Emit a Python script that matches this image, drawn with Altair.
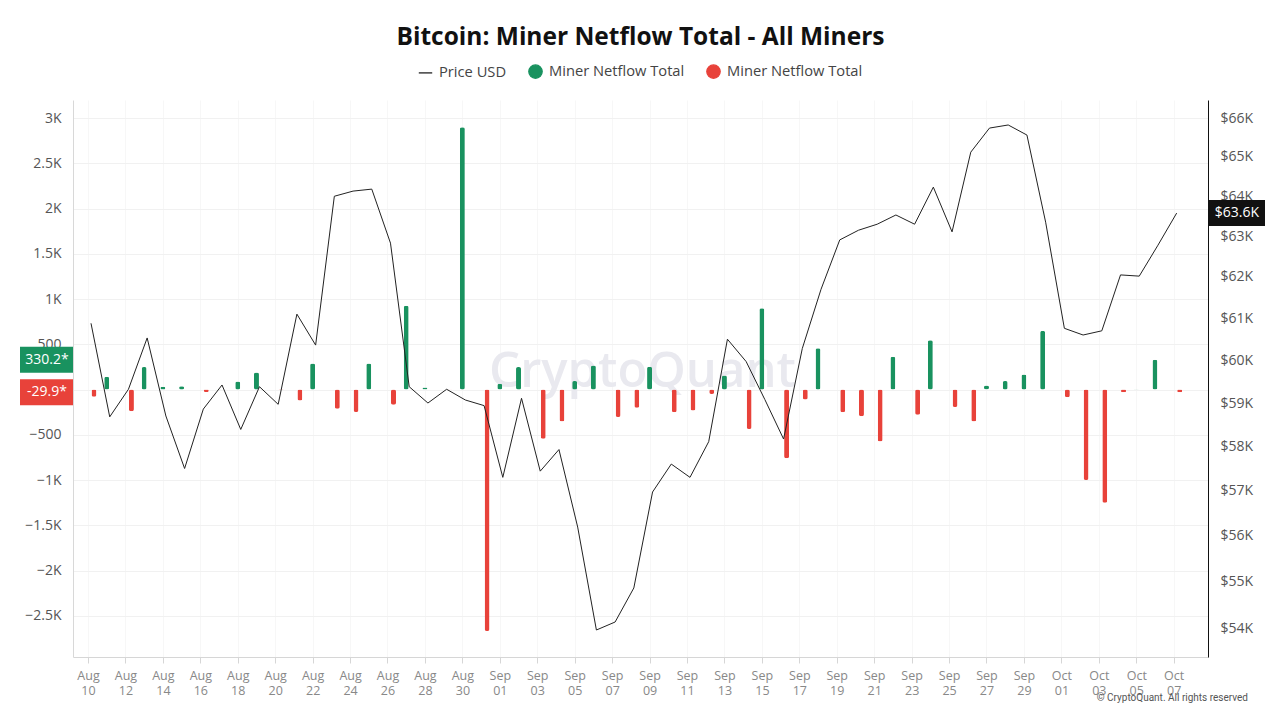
import altair as alt
import pandas as pd

# ---------------- data ----------------
dates = pd.date_range("2024-08-10", "2024-10-07", freq="D").strftime("%Y-%m-%d").tolist()

netflow = [
    -81, 141, -240, 248, 30, 37, -26, 3, 89, 189,          # Aug 10-19
    -4, -122, 289, -211, -248, 289, -167, 925, 22, -3,      # Aug 20-29
    2900, -2670,                                            # Aug 30-31
    63, 248, -544, -352, 93, 266, -303, -200, 252, -252,    # Sep 01-10
    -233, -48, 155, -437, 899, -759, -111, 455, -252, -296, # Sep 11-20
    -574, 363, -278, 544, -192, -352, 44, 93, 167, 648,     # Sep 21-30
    -85, -999, -1251, -30, 2, 330.2, -29.9,                 # Oct 01-07
]

price = [
    60880, 58680, 59320, 60530, 58700, 57500, 58860, 59420, 58390, 59380,  # Aug 10-19
    58970, 61100, 60360, 64000, 64130, 64180, 62830, 59380, 59000, 59320,  # Aug 20-29
    59070, 58940,                                                          # Aug 30-31
    57300, 59110, 57440, 57930, 56190, 53960, 54130, 54860, 56970, 57600,  # Sep 01-10
    57300, 58110, 60500, 59970, 59080, 58170, 60280, 61700, 62910, 63150,  # Sep 11-20
    63300, 63530, 63300, 64230, 63110, 65120, 65740, 65820, 65560, 63350,  # Sep 21-30
    60760, 60600, 60700, 62050, 62020, 62780, 63578,                       # Oct 01-07
]

x_tick_dates = dates[::2]
left_ticks = [-2500, -2000, -1500, -1000, -500, 0, 500, 1000, 1500, 2000, 2500, 3000]
right_ticks = [54000, 55000, 56000, 57000, 58000, 59000, 60000, 61000,
               62000, 63000, 64000, 65000, 66000]
series_keys = ["Price USD", "Miner Netflow Total (in)", "Miner Netflow Total (out)"]

GREEN = "#19925f"
RED = "#e8423a"
DARK = "#222222"
FONT = "Open Sans"
W, H = 1135, 557

df = pd.DataFrame({"date": dates, "netflow": netflow, "price": price})

last_pos = [v for v in netflow if v > 0][-1]
last_neg = [v for v in netflow if v < 0][-1]
badge_df = pd.DataFrame({
    "v": [last_pos, last_neg],
    "label": [f"{last_pos}*", f"{last_neg}*"],
    "col": [GREEN, RED],
})
price_badge_df = pd.DataFrame({"p": [price[-1]], "label": [f"${price[-1]/1000:.1f}K"]})
legend_df = pd.DataFrame({"series": series_keys, "v": [None, None, None]})
wm_df = pd.DataFrame({"t": ["CryptoQuant"]})
cr_df = pd.DataFrame({"t": ["© CryptoQuant. All rights reserved"]})

# ---------------- scales / axes ----------------
def dt(s, h=0, m=0):
    y, mo, d = s.split("-")
    return alt.DateTime(year=int(y), month=int(mo), date=int(d), hours=h, minutes=m, utc=True)

x_scale = alt.Scale(type="utc", domain=[dt("2024-08-09", 4, 46), dt("2024-10-08", 20, 0)], padding=0)
x_axis = alt.Axis(
    values=[dt(s) for s in x_tick_dates],
    labelExpr="[utcFormat(datum.value, '%b'), utcFormat(datum.value, '%d')]",
    labelFont=FONT, labelFontSize=12.5, labelColor="#888888", labelLineHeight=15.5,
    labelPadding=6, labelAngle=0,
    tickColor="#d6d6d6", tickSize=6, domainColor="#d6d6d6",
    grid=True, gridColor="#f7f7f7", title=None,
)
x_enc = alt.X("date:T", scale=x_scale, axis=x_axis)

left_scale = alt.Scale(domain=[-2956, 3200], nice=False, zero=False)
left_axis = alt.Axis(
    orient="left", values=left_ticks,
    labelExpr="datum.value == 0 ? '' : abs(datum.value) >= 1000 ? format(datum.value / 1000, '') + 'K' : format(datum.value, '')",
    labelFont=FONT, labelFontSize=14, labelColor="#555555", labelPadding=12,
    ticks=False, domainColor="#d8d8d8", grid=True, gridColor="#f1f1f1", title=None,
)
right_scale = alt.Scale(type="log", domain=[53390, 66470], nice=False)
right_axis = alt.Axis(
    orient="right", values=right_ticks,
    labelExpr="'$' + format(datum.value / 1000, '') + 'K'",
    labelFont=FONT, labelFontSize=14, labelColor="#555555", labelPadding=12,
    ticks=False, domainColor="#111111", grid=False, title=None,
)
y_left = alt.Y("netflow:Q", scale=left_scale, axis=left_axis)

legend_def = alt.Legend(
    title=None, orient="none", direction="horizontal", legendX=345, legendY=-36,
    labelExpr="datum.label == 'Price USD' ? 'Price USD' : 'Miner Netflow Total'",
    labelFont=FONT, labelFontSize=14.7, labelColor="#444444", labelOffset=6,
    symbolSize=180, symbolStrokeWidth=1.3, symbolOpacity=1, columnPadding=19, padding=0,
)

# ---------------- layers ----------------
watermark = alt.Chart(wm_df).mark_text(
    font=FONT, fontSize=49, fontWeight=600, color="#e9e9ef", align="center", baseline="middle"
).encode(x=alt.value(W / 2 + 2), y=alt.value(272), text="t:N")

green_bars = alt.Chart(df).transform_filter("datum.netflow > 0").mark_bar(
    width=5, cornerRadius=2, color=GREEN
).encode(x=x_enc, y=y_left)

red_bars = alt.Chart(df).transform_filter("datum.netflow < 0").mark_bar(
    width=5, cornerRadius=2, color=RED, xOffset=6
).encode(x=x_enc, y=y_left)

legend_layer = alt.Chart(legend_df).mark_point(opacity=1).encode(
    y=alt.Y("v:Q", scale=left_scale, axis=left_axis),
    fill=alt.Fill("series:N", scale=alt.Scale(domain=series_keys, range=[DARK, GREEN, RED]), legend=legend_def),
    stroke=alt.Stroke("series:N", scale=alt.Scale(domain=series_keys, range=[DARK, GREEN, RED]), legend=legend_def),
    shape=alt.Shape("series:N", scale=alt.Scale(domain=series_keys, range=["M-1,0L1,0", "circle", "circle"]), legend=legend_def),
)

badge_rect = alt.Chart(badge_df).mark_rect(yOffset=-13, y2Offset=13).encode(
    x=alt.value(-53), x2=alt.value(0),
    y=alt.Y("v:Q", scale=left_scale, axis=left_axis), y2="v:Q",
    color=alt.Color("col:N", scale=None),
)
badge_text = alt.Chart(badge_df).mark_text(
    font=FONT, fontSize=14, color="white", align="center", baseline="middle"
).encode(x=alt.value(-26), y=alt.Y("v:Q", scale=left_scale, axis=left_axis), text="label:N")

copyright_text = alt.Chart(cr_df).mark_text(
    font="Roboto", fontSize=10, color="#555555", align="right", baseline="middle"
).encode(x=alt.value(W + 40), y=alt.value(H + 41), text="t:N")

left_group = alt.layer(watermark, green_bars, red_bars, legend_layer, badge_rect, badge_text, copyright_text)

y_right = alt.Y("price:Q", scale=right_scale, axis=right_axis)
price_line = alt.Chart(df).mark_line(color=DARK, strokeWidth=1, xOffset=3).encode(x=x_enc, y=y_right)
price_rect = alt.Chart(price_badge_df).mark_rect(yOffset=-13, y2Offset=13, color="#111111").encode(
    x=alt.value(W + 1), x2=alt.value(W + 57),
    y=alt.Y("p:Q", scale=right_scale, axis=right_axis), y2="p:Q",
)
price_text = alt.Chart(price_badge_df).mark_text(
    font=FONT, fontSize=14, color="white", align="center", baseline="middle"
).encode(x=alt.value(W + 29), y=alt.Y("p:Q", scale=right_scale, axis=right_axis), text="label:N")

right_group = alt.layer(price_line, price_rect, price_text)

chart = alt.layer(left_group, right_group).resolve_scale(y="independent").properties(
    width=W, height=H,
    padding={"left": 65, "top": 92, "right": 64, "bottom": 55},
    autosize=alt.AutoSizeParams(type="none"),
    background="white",
    title=alt.TitleParams(
        "Bitcoin: Miner Netflow Total - All Miners",
        font=FONT, fontSize=24.5, fontWeight="bold", color="#111111",
        anchor="middle", offset=14,
    ),
).configure_view(stroke=None)

chart.save("out.html", embed_options={"renderer": "svg", "actions": False})
